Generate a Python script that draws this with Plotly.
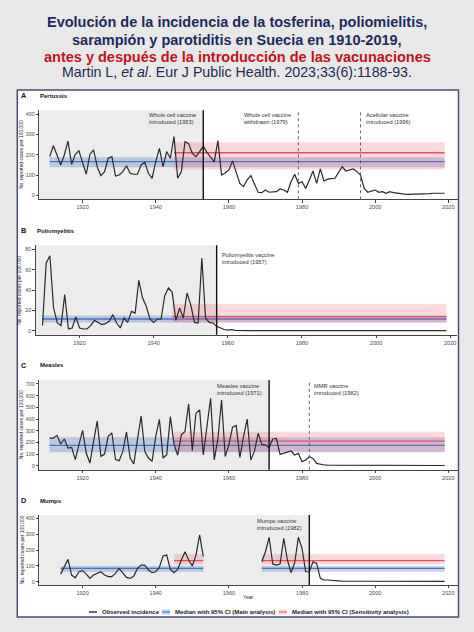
import plotly.graph_objects as go

W, H = 474, 632
FONT = "Liberation Sans, Arial, sans-serif"

# ---------------- DATA ----------------
x_ticks = [1920, 1940, 1960, 1980, 2000, 2020]

pertussis_years = list(range(1911, 2020))
pertussis_values = [
    191, 245, 199, 150, 199, 268, 153, 202, 220, 158,
    104, 202, 224, 141, 97, 117, 183, 191, 95, 100,
    117, 146, 109, 104, 104, 150, 163, 109, 84, 166,
    232, 141, 216, 183, 290, 84, 117, 265, 255, 207,
    191, 216, 242, 212, 190, 165, 270, 100, 110, 125,
    170, 117, 59, 43, 76, 97, 51, 15, 13, 26,
    15, 18, 18, 31, 26, 15, 67, 104, 59, 67,
    34, 76, 120, 59, 130, 71, 80, 82, 84, 113,
    141, 120, 125, 130, 117, 100, 34, 15, 21, 26,
    15, 18, 10, 18, 13, 10, 8, 6, 5, 5,
    5, 5, 5, 6, 8, 10, 10, 10, 10,
]

polio_years = list(range(1910, 2020))
polio_values = [
    5, 66.5, 73.7, 22.3, 7.6, 5, 35.4, 1.7, 2.7, 13.5,
    2.7, 1.7, 1.7, 5, 10.2, 8.2, 6, 6.9, 9.2, 15.8,
    7.6, 2.7, 12.5, 8.2, 19, 17.4, 49.5, 32.1, 24, 11.5,
    8.2, 11.5, 11.5, 34.4, 42, 37.7, 10.2, 22.3, 12.5, 37,
    25.6, 8.2, 7.6, 71.5, 12.5, 8.2, 7.6, 4.3, 2.7, 1.2,
    0.6, 1.0, 0.3, 0.1, 0.1, 0.1, 0.1, 0.1, 0.1, 0.1,
] + [0.1] * 50

measles_years = list(range(1911, 2020))
measles_values = [
    237, 237, 260, 186, 229, 152, 157, 52, 180, 303,
    109, 23, 209, 382, 80, 100, 252, 280, 52, 43,
    123, 289, 66, 15, 223, 425, 123, 66, 37, 252,
    397, 66, 95, 420, 185, 90, 265, 293, 530, 128,
    450, 478, 93, 336, 578, 50, 230, 563, 79, 178,
    330, 345, 70, 250, 400, 50, 125, 278, 183, 177,
    155, 229, 234, 97, 106, 112, 126, 92, 106, 35,
    49, 77, 63, 20, 12, 6, 5, 5, 5, 4,
    4, 3, 3, 3, 2, 2, 2, 2, 2, 2,
    2, 2, 2, 2, 2, 2, 2, 2, 2, 2,
    2, 2, 2, 2, 2, 2, 2, 2, 2,
]

mumps_years_early = list(range(1914, 1954))
mumps_values_early = [
    48, 99, 141, 42, 25, 63, 70, 48, 21, 42,
    53, 63, 42, 32, 32, 53, 84, 57, 27, 21,
    36, 84, 105, 105, 74, 57, 63, 91, 162, 168,
    78, 57, 78, 137, 189, 137, 99, 168, 295, 158,
]
mumps_years_late = list(range(1969, 2020))
mumps_values_late = [
    126, 189, 280, 112, 105, 112, 274, 137, 57, 120,
    280, 210, 63, 63, 126, 116, 21, 11, 11, 8,
    6, 5, 4, 3, 3, 3, 3, 3, 3, 3,
    2, 2, 2, 2, 2, 2, 2, 2, 2, 2,
    2, 2, 2, 2, 2, 2, 2, 2, 2, 2, 2,
]

# median bands: (start, end, median, low, high)
pertussis_main = [(1911, 2019, 166, 138, 188)]
pertussis_sens = [(1945, 2019, 210, 128, 262)]
polio_main = [(1910, 2019, 11.5, 8, 15)]
polio_sens = [(1945, 2019, 13.8, 8, 26)]
measles_main = [(1911, 2019, 175, 115, 243)]
measles_sens = [(1945, 2019, 210, 120, 290)]
mumps_main = [(1914, 1953, 84, 63, 99), (1969, 2019, 84, 63, 99)]
mumps_sens = [(1945, 1953, 133, 108, 175), (1969, 2019, 133, 108, 175)]

# vaccine events: (year, two-line label, solid?, side)
pertussis_events = [(1953, "Whole cell vaccine<br>introduced (1953)", True, "left"),
                    (1979, "Whole cell vaccine<br>withdrawn (1979)", False, "left"),
                    (1996, "Acellular vaccine<br>introduced (1996)", False, "right")]
polio_events = [(1957, "Poliomyelitis vaccine<br>introduced (1957)", True, "right")]
measles_events = [(1971, "Measles vaccine<br>introduced (1971)", True, "left"),
                  (1982, "MMR vaccine<br>introduced (1982)", False, "right")]
mumps_events = [(1982, "Mumps vaccine<br>introduced (1982)", True, "left")]

# ---------------- LAYOUT HELPERS ----------------
def fx(p):
    return p / W

def fy(p):
    return 1 - p / H

panels = [
    dict(tag="A", title="Pertussis", ax="", l=39.3, r=457.7, top=110.25, bot=199.35,
         xr=[1908.16, 2022.57], yr=[-20, 420], yt=[0, 100, 200, 300, 400],
         series=[(pertussis_years, pertussis_values)],
         main=pertussis_main, sens=pertussis_sens, events=pertussis_events,
         ann_y=380, shade_to=1953),
    dict(tag="B", title="Poliomyelitis", ax="2", l=35.7, r=456.7, top=245.2, bot=334.8,
         xr=[1908.17, 2021.77], yr=[-4, 84], yt=[0, 20, 40, 60, 80],
         series=[(polio_years, polio_values)],
         main=polio_main, sens=polio_sens, events=polio_events,
         ann_y=71, shade_to=1957),
    dict(tag="C", title="Measles", ax="3", l=39.3, r=457.7, top=379.9, bot=469.8,
         xr=[1908.16, 2022.57], yr=[-35, 735], yt=[0, 100, 200, 300, 400, 500, 600, 700],
         series=[(measles_years, measles_values)],
         main=measles_main, sens=measles_sens, events=measles_events,
         ann_y=650, shade_to=1971),
    dict(tag="D", title="Mumps", ax="4", l=39.3, r=457.7, top=515.1, bot=584.9,
         xr=[1908.16, 2022.57], yr=[-20, 420], yt=[0, 100, 200, 300, 400],
         series=[(mumps_years_early, mumps_values_early), (mumps_years_late, mumps_values_late)],
         main=mumps_main, sens=mumps_sens, events=mumps_events,
         ann_y=358, shade_to=1982),
]

BLUE_LINE = "#4a72c2"
BLUE_FILL = "rgba(68,114,196,0.30)"
RED_LINE = "#e5505e"
RED_FILL = "rgba(238,80,98,0.22)"
OBS = "#2b2b2b"

fig = go.Figure()
shapes = []
annotations = []

# white panel
shapes.append(dict(type="rect", xref="paper", yref="paper",
                   x0=fx(17.3), x1=fx(458.5), y0=fy(617), y1=fy(90),
                   fillcolor="white", line=dict(color="#44506e", width=1.5), layer="below"))

for p in panels:
    xa = "x" + p["ax"]
    ya = "y" + p["ax"]
    # gray pre-vaccine region
    shapes.append(dict(type="rect", xref=xa, yref=ya + " domain",
                       x0=p["xr"][0], x1=p["shade_to"], y0=0, y1=1,
                       fillcolor="#ececec", line=dict(width=0), layer="below"))
    # bands
    for segs, fill, lc in ((p["main"], BLUE_FILL, BLUE_LINE), (p["sens"], RED_FILL, RED_LINE)):
        for (s, e, med, lo, hi) in segs:
            fig.add_trace(go.Scatter(x=[s, e, e, s, s], y=[lo, lo, hi, hi, lo], fill="toself",
                                     fillcolor=fill, line=dict(width=0), mode="lines",
                                     hoverinfo="skip", showlegend=False, xaxis=xa, yaxis=ya))
            fig.add_trace(go.Scatter(x=[s, e], y=[med, med], mode="lines",
                                     line=dict(color=lc, width=1.3),
                                     hoverinfo="skip", showlegend=False, xaxis=xa, yaxis=ya))
    # observed
    for yrs, vals in p["series"]:
        fig.add_trace(go.Scatter(x=yrs, y=vals, mode="lines", line=dict(color=OBS, width=1.2),
                                 showlegend=False, xaxis=xa, yaxis=ya))
    # events
    for (yr, label, solid, side) in p["events"]:
        shapes.append(dict(type="line", xref=xa, yref=ya + " domain", x0=yr, x1=yr, y0=0, y1=1,
                           line=dict(color="#111111" if solid else "#555555",
                                     width=1.4 if solid else 0.9,
                                     dash="solid" if solid else "dot"),
                           layer="above"))
        annotations.append(dict(xref=xa, yref=ya, x=yr, y=p["ann_y"], text=label,
                                showarrow=False,
                                xanchor="right" if side == "left" else "left",
                                xshift=-5 if side == "left" else 3,
                                align="left", yanchor="middle",
                                font=dict(size=5.7, color="#333333", family=FONT)))
    # axes
    fig.update_layout(**{
        "xaxis" + p["ax"]: dict(domain=[fx(p["l"]), fx(p["r"])], range=p["xr"],
                               tickvals=x_ticks, showline=True, linecolor="#444444", linewidth=0.8,
                               ticks="outside", ticklen=2.5, tickwidth=0.8, tickcolor="#444444",
                               tickfont=dict(size=5.6, color="#4d4d4d", family=FONT),
                               showgrid=False, zeroline=False, anchor=ya, fixedrange=True),
        "yaxis" + p["ax"]: dict(domain=[fy(p["bot"]), fy(p["top"])], range=p["yr"],
                               tickvals=p["yt"], showline=True, linecolor="#444444", linewidth=0.8,
                               ticks="outside", ticklen=2.5, tickwidth=0.8, tickcolor="#444444",
                               tickfont=dict(size=5.4, color="#4d4d4d", family=FONT),
                               showgrid=False, zeroline=False, anchor=xa, fixedrange=True),
    })
    # panel tag + title
    annotations.append(dict(xref="paper", yref="paper", x=fx(18.5), y=fy(p["top"] - 14.5),
                            text="<b>" + p["tag"] + "</b>", showarrow=False, xanchor="left",
                            yanchor="middle", font=dict(size=7.2, color="#111111", family=FONT)))
    annotations.append(dict(xref="paper", yref="paper", x=fx(p["l"] - 1), y=fy(p["top"] - 14.5),
                            text="<b>" + p["title"] + "</b>", showarrow=False, xanchor="left",
                            yanchor="middle", font=dict(size=6, color="#111111", family=FONT)))
    # y-axis title
    annotations.append(dict(xref="paper", yref="paper", x=fx(p["l"] - 17), y=fy((p["top"] + p["bot"]) / 2),
                            text="No. reported cases per 100,000", textangle=-90, showarrow=False,
                            xanchor="center", yanchor="middle",
                            font=dict(size=4.9, color="#222222", family=FONT)))

# x-axis title for last panel
annotations.append(dict(xref="paper", yref="paper", x=fx(248), y=fy(596.5), text="Year",
                        showarrow=False, xanchor="center", yanchor="middle",
                        font=dict(size=5, color="#222222", family=FONT)))

# legend (custom)
LY = 612
shapes.append(dict(type="line", xref="paper", yref="paper", x0=fx(89), x1=fx(97), y0=fy(LY), y1=fy(LY),
                   line=dict(color=OBS, width=1.4)))
annotations.append(dict(xref="paper", yref="paper", x=fx(100), y=fy(LY), text="<b>Observed incidence</b>",
                        showarrow=False, xanchor="left", yanchor="middle",
                        font=dict(size=6, color="#222222", family=FONT)))
for x0, fill, lc, txt in ((162, BLUE_FILL, BLUE_LINE, "Median with 95% CI (Main analysis)"),
                          (279, RED_FILL, RED_LINE, "Median with 95% CI (Sensitivity analysis)")):
    shapes.append(dict(type="rect", xref="paper", yref="paper", x0=fx(x0), x1=fx(x0 + 8),
                       y0=fy(LY + 2.6), y1=fy(LY - 2.6), fillcolor=fill, line=dict(width=0)))
    shapes.append(dict(type="line", xref="paper", yref="paper", x0=fx(x0), x1=fx(x0 + 8),
                       y0=fy(LY), y1=fy(LY), line=dict(color=lc, width=1.1)))
    annotations.append(dict(xref="paper", yref="paper", x=fx(x0 + 11), y=fy(LY), text="<b>" + txt + "</b>",
                            showarrow=False, xanchor="left", yanchor="middle",
                            font=dict(size=6, color="#222222", family=FONT)))

# headline
NAVY = "#1e2a5c"
title_lines = [
    ("<b>Evolución de la incidencia de la tosferina, poliomielitis,</b>", 21.7, NAVY, 14.5),
    ("<b>sarampión y parotiditis en Suecia en 1910-2019,</b>", 39.5, NAVY, 14.5),
    ("<b>antes y después de la introducción de las vacunaciones</b>", 56.5, "#c0141e", 14.5),
    ("Martin L, <i>et al</i>. Eur J Public Health. 2023;33(6):1188-93.", 72, "#1e2a50", 14.2),
]
for txt, yy, col, sz in title_lines:
    annotations.append(dict(xref="paper", yref="paper", x=0.5, y=fy(yy), text=txt, showarrow=False,
                            xanchor="center", yanchor="middle",
                            font=dict(size=sz, color=col, family=FONT)))

fig.update_layout(width=W, height=H, margin=dict(l=0, r=0, t=0, b=0),
                  paper_bgcolor="#e8e8e8", plot_bgcolor="rgba(0,0,0,0)",
                  font=dict(family=FONT), showlegend=False,
                  shapes=shapes, annotations=annotations)

fig.write_html("out.html")
